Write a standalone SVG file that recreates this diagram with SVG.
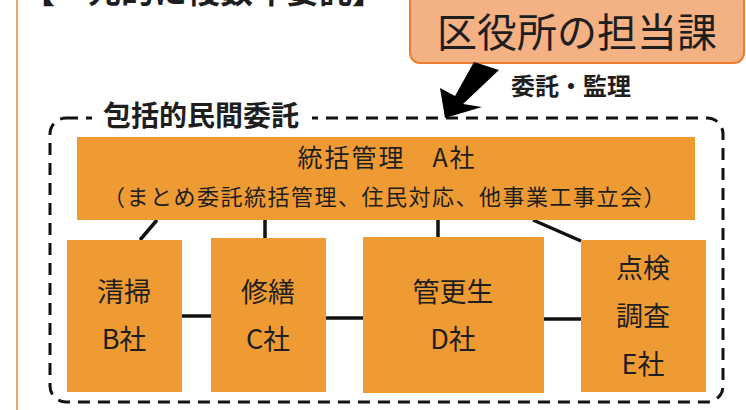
<svg xmlns="http://www.w3.org/2000/svg" width="746" height="410" viewBox="0 0 746 410">
<defs>
<style>
.jp{font-family:"Noto Sans CJK JP","Noto Sans CJK SC",sans-serif;fill:#1e1e1e}
.box{fill:#EF9B34}
.ln{stroke:#111;stroke-width:3.5;fill:none}
.nt{font-size:27px;text-anchor:middle}
</style>
</defs>
<rect width="746" height="410" fill="#fff"/>
<line x1="17" y1="0" x2="17" y2="410" stroke="#F2A766" stroke-width="2"/>
<text class="jp" x="22" y="3" font-size="33" font-weight="bold">【一元的に複数年委託】</text>

<g id="kuyakusho">
<rect x="410" y="-8" width="334" height="71" rx="10" fill="#F4B183" stroke="#ED7D31" stroke-width="2"/>
<text class="jp" x="577" y="47" font-size="40" text-anchor="middle" fill="#222">区役所の担当課</text>
</g>

<g id="frame">
<rect x="50" y="118" width="673" height="284" rx="16" fill="none" stroke="#111" stroke-width="3" stroke-dasharray="12 8"/>
<rect x="92" y="102" width="220" height="30" fill="#fff"/>
<text class="jp" x="103" y="126" font-size="28" font-weight="bold">包括的民間委託</text>
</g>

<g id="connectors">
<polygon points="474,62 499,70 463,104 482,107 445,118 440,88 455,96" fill="#000"/>
<text class="jp" x="511" y="95" font-size="24" font-weight="bold">委託・監理</text>
<line class="ln" x1="157" y1="220" x2="140" y2="240"/>
<line class="ln" x1="265" y1="220" x2="265" y2="238"/>
<line class="ln" x1="438" y1="220" x2="438" y2="237"/>
<line class="ln" x1="533" y1="220" x2="581" y2="241"/>
<line class="ln" x1="182" y1="316" x2="211" y2="316"/>
<line class="ln" x1="326" y1="318" x2="363" y2="318"/>
<line class="ln" x1="544" y1="319" x2="581" y2="319"/>
</g>

<g id="nodeA">
<rect class="box" x="77" y="137" width="618" height="83"/>
<text class="jp" x="387" y="167" font-size="25" letter-spacing="2" text-anchor="middle">統括管理　A社</text>
<text class="jp" x="385" y="205" font-size="22" letter-spacing="1.5" text-anchor="middle">（まとめ委託統括管理、住民対応、他事業工事立会）</text>
</g>

<g id="nodeB">
<rect class="box" x="67" y="240" width="115" height="152"/>
<text class="jp nt" x="124" y="302">清掃</text>
<text class="jp nt" x="124" y="349">B社</text>
</g>

<g id="nodeC">
<rect class="box" x="211" y="238" width="115" height="154"/>
<text class="jp nt" x="268" y="302">修繕</text>
<text class="jp nt" x="268" y="349">C社</text>
</g>

<g id="nodeD">
<rect class="box" x="363" y="237" width="181" height="156"/>
<text class="jp nt" x="453" y="302">管更生</text>
<text class="jp nt" x="453" y="349">D社</text>
</g>

<g id="nodeE">
<rect class="box" x="581" y="240" width="125" height="152"/>
<text class="jp nt" x="643" y="278">点検</text>
<text class="jp nt" x="643" y="326">調査</text>
<text class="jp nt" x="643" y="374">E社</text>
</g>
</svg>
